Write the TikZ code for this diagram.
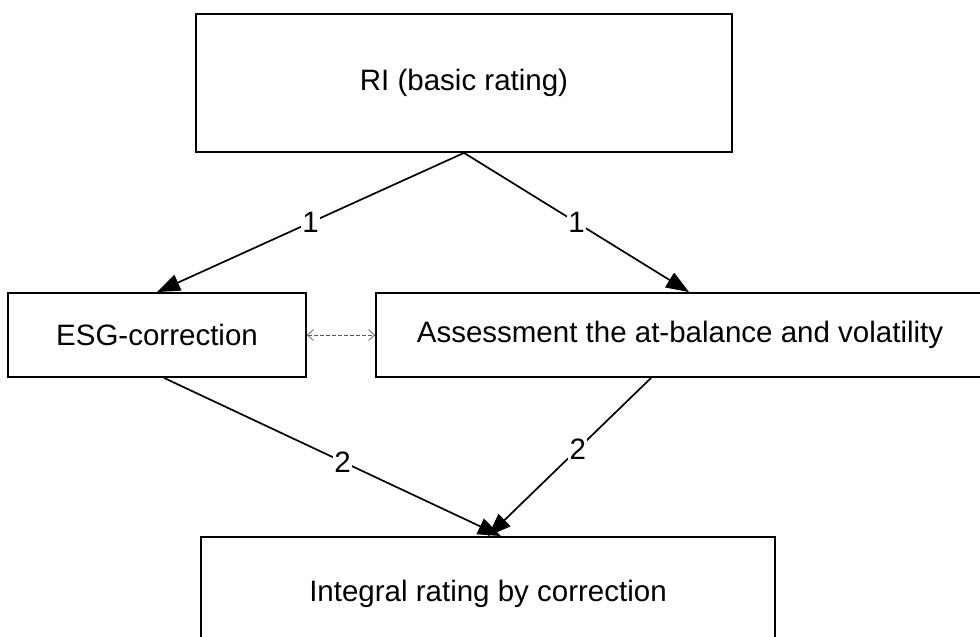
\documentclass[tikz,border=0pt]{standalone}
\usepackage{fontspec}
\setmainfont{Liberation Sans}
\usetikzlibrary{arrows.meta}
\begin{document}
\begin{tikzpicture}[x=1pt,y=-1pt,
  box/.style={draw=black, line width=1.8pt, fill=white, inner sep=0pt, font=\fontsize{29.5}{34}\selectfont},
  conn/.style={line width=1.7pt, -{Triangle[length=23pt,width=17pt]}},
  lbl/.style={fill=white, inner sep=1.5pt, font=\fontsize{29.5}{34}\selectfont},
  link/.style={draw=black!65, line width=0.7pt, dash pattern=on 4pt off 2pt, {Straight Barb[length=6pt,width=11pt]}-{Straight Barb[length=6pt,width=11pt]}}]
\useasboundingbox (0,0) rectangle (980,637);
\node[box, minimum width=536pt, minimum height=138pt] (top) at (464,83) {RI (basic rating)};
\node[box, minimum width=298pt, minimum height=84pt] (esg) at (157,335) {ESG-correction};
\node[box, minimum width=608pt, minimum height=84pt] (ab) at (680,335) {Assessment the at-balance and volatility};
\node[box, minimum width=574pt, minimum height=114pt] (ir) at (488,594) {Integral rating by correction};
\coordinate (abin) at ([xshift=314pt]ab.north west);
\coordinate (esgout) at ([xshift=7pt]esg.south);
\coordinate (about) at ([xshift=276pt]ab.south west);
\coordinate (irin) at ([xshift=13pt]ir.north);
\draw[conn] (top.south) -- node[lbl] {1} (esg.north);
\draw[conn] (top.south) -- node[lbl] {1} (abin);
\draw[conn] (esgout) -- node[lbl, pos=0.53] {2} (irin);
\draw[conn] (about) -- node[lbl, pos=0.45] {2} (ir.north);
\draw[link] (esg.east) -- (ab.west);
\end{tikzpicture}
\end{document}
